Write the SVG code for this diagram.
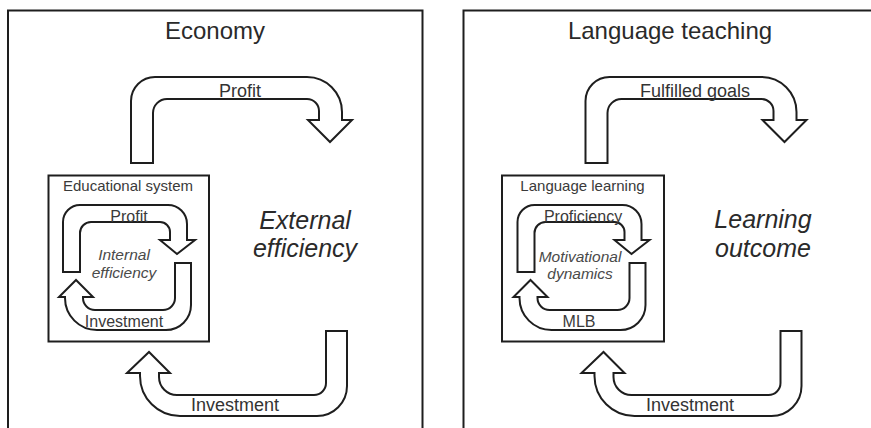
<svg xmlns="http://www.w3.org/2000/svg" width="871" height="428" viewBox="0 0 871 428">
  <style>
    .frame { fill: none; stroke: #1e1e1e; stroke-width: 2; }
    .box { fill: #ffffff; stroke: #1e1e1e; stroke-width: 2; }
    .arrow { fill: #ffffff; stroke: #1e1e1e; stroke-width: 2; stroke-linejoin: miter; }
    text { font-family: "Liberation Sans", Arial, sans-serif; text-anchor: middle; fill: #2a2a2a; }
    .title { font-size: 24px; }
    .label { font-size: 18px; fill: #333333; }
    .small { font-size: 15px; fill: #3a3a3a; }
    .inner { font-size: 16px; fill: #3a3a3a; }
    .big-it { font-size: 25px; font-style: italic; fill: #2a2a2a; }
    .it { font-size: 15.5px; font-style: italic; fill: #4a4a4a; }
  </style>
  <defs>
    <path id="bigTop" d="M131,163 L131,101 A24,24 0 0 1 155,77 L307,77 A35,35 0 0 1 342,112 L342,120 L352,120 L330,142 L308,120 L319,120 L319,111 A12,12 0 0 0 307,99 L167,99 A14,14 0 0 0 153,113 L153,163 Z"/>
    <path id="bigBottom" d="M326,331 L347,331 L347,386 A30,30 0 0 1 317,416 L180,416 A40,40 0 0 1 140,376 L140,373 L127,373 L149,352 L170,373 L159,373 L159,377 A18,18 0 0 0 177,395 L314,395 A12,12 0 0 0 326,383 Z"/>
    <path id="smallTop" d="M63,272 L63,222 A17,17 0 0 1 80,205 L168,205 A19,19 0 0 1 187,224 L187,240 L195,240 L177,254 L160,240 L170,240 L170,232 A10,10 0 0 0 160,222 L91,222 A11,11 0 0 0 80,233 L80,272 Z"/>
    <path id="smallBottom" d="M175,263 L191,263 L191,305 A25,25 0 0 1 166,330 L97,330 A32,32 0 0 1 65,298 L65,297 L59,297 L76,280 L93,297 L83,297 L83,298 A12,12 0 0 0 95,310 L163,310 A12,12 0 0 0 175,298 Z"/>
  </defs>

  <!-- Left panel: Economy -->
  <g id="economy-frame">
    <path class="frame" d="M8,430 L8,10.5 L422.5,10.5 L422.5,430"/>
    <text class="title" x="215" y="39">Economy</text>
  </g>
  <g id="educational-system">
    <rect class="box" x="48.5" y="175.5" width="160.5" height="166"/>
    <text class="small" x="128" y="190.5">Educational system</text>
  </g>
  <g id="external-efficiency">
    <text class="big-it" x="305" y="229">External</text>
    <text class="big-it" x="305" y="257">efficiency</text>
  </g>
  <g id="internal-efficiency">
    <text class="it" x="124" y="260">Internal</text>
    <text class="it" x="124" y="278">efficiency</text>
  </g>

  <!-- Right panel: Language teaching -->
  <g id="language-teaching-frame">
    <path class="frame" d="M463.5,430 L463.5,10.5 L872,10.5"/>
    <text class="title" x="670" y="39">Language teaching</text>
  </g>
  <g id="language-learning">
    <rect class="box" x="502" y="175.5" width="162" height="166"/>
    <text class="small" x="582.5" y="190.5">Language learning</text>
  </g>
  <g id="learning-outcome">
    <text class="big-it" x="763" y="228">Learning</text>
    <text class="big-it" x="763" y="257">outcome</text>
  </g>
  <g id="motivational-dynamics">
    <text class="it" x="580" y="261.5">Motivational</text>
    <text class="it" x="580" y="279">dynamics</text>
  </g>

  <!-- Connectors -->
  <g id="connectors">
    <g id="left-profit">
      <use href="#bigTop" class="arrow"/>
      <text class="label" x="240" y="97">Profit</text>
    </g>
    <g id="left-investment">
      <use href="#bigBottom" class="arrow"/>
      <text class="label" x="235" y="411">Investment</text>
    </g>
    <g id="left-inner-profit">
      <use href="#smallTop" class="arrow"/>
      <text class="inner" x="129" y="221.5">Profit</text>
    </g>
    <g id="left-inner-investment">
      <use href="#smallBottom" class="arrow"/>
      <text class="inner" x="124" y="326.5">Investment</text>
    </g>
    <g id="right-goals">
      <use href="#bigTop" class="arrow" transform="translate(454.5,0)"/>
      <text class="label" x="695" y="97">Fulfilled goals</text>
    </g>
    <g id="right-investment">
      <use href="#bigBottom" class="arrow" transform="translate(454.5,0)"/>
      <text class="label" x="690" y="411">Investment</text>
    </g>
    <g id="right-inner-proficiency">
      <use href="#smallTop" class="arrow" transform="translate(454.5,0)"/>
      <text class="inner" x="583" y="221.5">Proficiency</text>
    </g>
    <g id="right-inner-mlb">
      <use href="#smallBottom" class="arrow" transform="translate(454.5,0)"/>
      <text class="inner" x="579" y="326.5">MLB</text>
    </g>
  </g>
</svg>
